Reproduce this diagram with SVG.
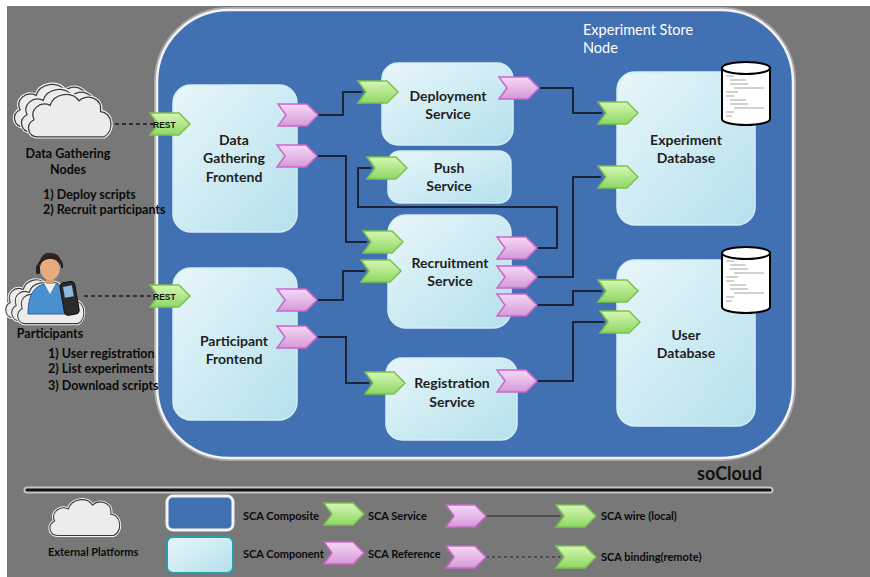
<svg xmlns="http://www.w3.org/2000/svg" xmlns:xlink="http://www.w3.org/1999/xlink" width="870" height="577" viewBox="0 0 870 577">
  <defs>
    <linearGradient id="compFill" x1="0" y1="0" x2="1" y2="1">
      <stop offset="0" stop-color="#e8f6fa"/>
      <stop offset="1" stop-color="#b4e0ec"/>
    </linearGradient>
    <linearGradient id="svcFill" x1="0" y1="0" x2="0" y2="1">
      <stop offset="0" stop-color="#d6f6b4"/>
      <stop offset="1" stop-color="#8ed764"/>
    </linearGradient>
    <linearGradient id="refFill" x1="0" y1="0" x2="0" y2="1">
      <stop offset="0" stop-color="#f6d8f6"/>
      <stop offset="1" stop-color="#d49ad8"/>
    </linearGradient>
    <path id="chev" d="M0,0 H29 L40,11 L29,22 H0 L8,11 Z"/>
    <path id="cloud" d="M14,52 C3,52 0,38 10,33 C5,22 16,12 28,17 C32,4 52,0 60,12 C68,4 86,8 84,24 C97,25 100,45 88,52 Z"/>
    <g id="svc"><use href="#chev" fill="url(#svcFill)" stroke="#7cc24e" stroke-width="1.5"/></g>
    <g id="ref"><use href="#chev" fill="url(#refFill)" stroke="#cc66cc" stroke-width="1.5"/></g>
    <g id="cloudShape"><use href="#cloud" fill="none" stroke="#f4f4f4" stroke-width="4"/><use href="#cloud" fill="#ececec" stroke="#3a3a3a" stroke-width="1.4"/></g>
  </defs>
  <style>
    .comp { fill: url(#compFill); stroke: #d2eef6; stroke-width: 1.5; }
    .lbl { font-family: Lato, "Liberation Sans", sans-serif; font-weight: bold; font-size: 14px; fill: #1e1e1e; text-anchor: middle; }
    .side { font-family: Lato, "Liberation Sans", sans-serif; font-weight: bold; font-size: 12.5px; fill: #0a0a0a; }
    .leg { font-family: Lato, "Liberation Sans", sans-serif; font-weight: bold; font-size: 11px; fill: #0a0a0a; }
    .wire { fill: none; stroke: #1b2536; stroke-width: 2; }
    .dash { fill: none; stroke: #1a1a1a; stroke-width: 1.5; stroke-dasharray: 4 3; }
    .db { fill: #ffffff; stroke: #000; stroke-width: 2; }
    .dbtxt { stroke: #666; stroke-width: 0.6; }
  </style>

  <!-- page -->
  <rect x="0" y="0" width="870" height="577" fill="#ffffff"/>
  <rect x="7" y="6" width="863" height="571" fill="#787878"/>

  <!-- experiment store composite -->
  <g id="experiment-store">
    <rect x="157" y="10" width="636" height="448" rx="72" fill="none" stroke="#a8a8a8" stroke-width="6"/>
    <rect x="157" y="10" width="636" height="448" rx="72" fill="#4271b3" stroke="#f4f4f4" stroke-width="2.5"/>
    <text x="583" y="35" font-family="Lato, 'Liberation Sans', sans-serif" font-size="14.5" fill="#ffffff">Experiment Store</text>
    <text x="583" y="53" font-family="Lato, 'Liberation Sans', sans-serif" font-size="14.5" fill="#ffffff">Node</text>
  </g>

  <!-- wires -->
  <g id="connectors">
    <path class="wire" d="M318,115 H343 V92 H362"/>
    <path class="wire" d="M316,156 H346 V242 H367"/>
    <path class="wire" d="M538,88 H573 V113 H602"/>
    <path class="wire" d="M535,248 H557 V207 H358 V168 H371"/>
    <path class="wire" d="M535,277 H573 V177 H601"/>
    <path class="wire" d="M535,305 H573 V291 H602"/>
    <path class="wire" d="M315,300 H343 V271 H365"/>
    <path class="wire" d="M315,337 H346 V383 H369"/>
    <path class="wire" d="M535,381 H573 V322 H604"/>
    <path class="dash" d="M115,124 H155"/>
    <path class="dash" d="M84,296 H154"/>
  </g>

  <!-- external: data gathering nodes -->
  <g id="data-gathering-nodes">
    <use href="#cloudShape" transform="translate(11,80) scale(0.9)"/>
    <use href="#cloudShape" transform="translate(18,85) scale(0.9)"/>
    <use href="#cloudShape" transform="translate(25,90) scale(0.9)"/>
    <text class="side" x="68" y="158" text-anchor="middle">Data Gathering</text>
    <text class="side" x="68" y="174" text-anchor="middle">Nodes</text>
    <text class="side" x="43" y="199">1) Deploy scripts</text>
    <text class="side" x="43" y="214">2) Recruit participants</text>
  </g>

  <!-- external: participants -->
  <g id="participants">
    <use href="#cloudShape" transform="translate(3,276) scale(0.72,0.8)"/>
    <use href="#cloudShape" transform="translate(9,279) scale(0.72,0.8)"/>
    <use href="#cloudShape" transform="translate(15,282) scale(0.72,0.8)"/>
    <!-- person with headset -->
    <path d="M28,314 C28,292 36,284 50,283 C64,284 72,292 72,314 Z" fill="#4a8fd0" stroke="#2c5f96" stroke-width="1"/>
    <path d="M44,283 L50,294 L56,283 Z" fill="#f0f0f0"/>
    <rect x="46" y="276" width="8" height="8" fill="#d99a70"/>
    <ellipse cx="50" cy="268" rx="10" ry="12" fill="#e8aa80"/>
    <path d="M40,266 C39,255 46,252 51,253 C58,253 62,258 60,266 C58,260 54,259 50,259 C45,259 42,261 40,266 Z" fill="#3a2418"/>
    <path d="M38,270 C36,254 64,252 62,268" fill="none" stroke="#222" stroke-width="2"/>
    <rect x="36" y="265" width="4" height="9" rx="1.5" fill="#222"/>
    <rect x="62" y="282" width="15" height="33" rx="4" fill="#2a2a2a" stroke="#111" stroke-width="1" transform="rotate(-10 69 298)"/>
    <rect x="65" y="286" width="9" height="11" fill="#8fb8e0" transform="rotate(-10 69 298)"/>
    <text class="side" x="50" y="338" text-anchor="middle">Participants</text>
    <text class="side" x="48" y="358">1) User registration</text>
    <text class="side" x="48" y="373">2) List experiments</text>
    <text class="side" x="48" y="390">3) Download scripts</text>
  </g>

  <!-- components -->
  <g id="data-gathering-frontend">
    <rect class="comp" x="173" y="85" width="124" height="147" rx="18"/>
    <text class="lbl" x="234" y="145">Data</text>
    <text class="lbl" x="234" y="163">Gathering</text>
    <text class="lbl" x="234" y="182">Frontend</text>
    <use href="#svc" x="150" y="113"/>
    <text x="153" y="127.5" font-family="'Liberation Sans', sans-serif" font-weight="bold" font-size="8.5" fill="#111">REST</text>
    <use href="#ref" x="278" y="104"/>
    <use href="#ref" x="277" y="145"/>
  </g>

  <g id="participant-frontend">
    <rect class="comp" x="173" y="268" width="124" height="152" rx="18"/>
    <text class="lbl" x="234" y="346">Participant</text>
    <text class="lbl" x="234" y="364">Frontend</text>
    <use href="#svc" x="150" y="285"/>
    <text x="153" y="299.5" font-family="'Liberation Sans', sans-serif" font-weight="bold" font-size="8.5" fill="#111">REST</text>
    <use href="#ref" x="277" y="289"/>
    <use href="#ref" x="277" y="326"/>
  </g>

  <g id="deployment-service">
    <rect class="comp" x="382" y="63" width="131" height="82" rx="16"/>
    <text class="lbl" x="448" y="101">Deployment</text>
    <text class="lbl" x="448" y="119">Service</text>
    <use href="#svc" x="358" y="81"/>
    <use href="#ref" x="499" y="77"/>
  </g>

  <g id="push-service">
    <rect class="comp" x="388" y="151" width="123" height="52" rx="12"/>
    <text class="lbl" x="449" y="173">Push</text>
    <text class="lbl" x="449" y="191">Service</text>
    <use href="#svc" x="367" y="157"/>
  </g>

  <g id="recruitment-service">
    <rect class="comp" x="388" y="215" width="123" height="113" rx="18"/>
    <text class="lbl" x="450" y="268">Recruitment</text>
    <text class="lbl" x="450" y="286">Service</text>
    <use href="#svc" x="363" y="231"/>
    <use href="#svc" x="361" y="260"/>
    <use href="#ref" x="497" y="237"/>
    <use href="#ref" x="497" y="266"/>
    <use href="#ref" x="497" y="294"/>
  </g>

  <g id="registration-service">
    <rect class="comp" x="386" y="358" width="131" height="82" rx="16"/>
    <text class="lbl" x="452" y="388">Registration</text>
    <text class="lbl" x="452" y="407">Service</text>
    <use href="#svc" x="365" y="372"/>
    <use href="#ref" x="497" y="370"/>
  </g>

  <g id="experiment-database">
    <rect class="comp" x="617" y="72" width="138" height="153" rx="18"/>
    <text class="lbl" x="686" y="145">Experiment</text>
    <text class="lbl" x="686" y="163">Database</text>
    <use href="#svc" x="598" y="102"/>
    <use href="#svc" x="598" y="166"/>
    <path class="db" d="M722,68 V119 A24,6 0 0 0 770,119 V68 Z"/>
    <ellipse class="db" cx="746" cy="68" rx="24" ry="6"/>
    <g class="dbtxt">
      <path d="M726,76 H734 M730,80 H746 M730,84 H748 M734,88 H764 M726,92 H738 M726,96 H734 M730,100 H746 M730,104 H748 M734,108 H764 M726,112 H734 M726,116 H732"/>
    </g>
  </g>

  <g id="user-database">
    <rect class="comp" x="617" y="260" width="138" height="166" rx="18"/>
    <text class="lbl" x="686" y="340">User</text>
    <text class="lbl" x="686" y="358">Database</text>
    <use href="#svc" x="598" y="280"/>
    <use href="#svc" x="600" y="311"/>
    <path class="db" d="M722,253 V307 A24,6 0 0 0 770,307 V253 Z"/>
    <ellipse class="db" cx="746" cy="253" rx="24" ry="6"/>
    <g class="dbtxt">
      <path d="M726,261 H734 M730,265 H746 M730,269 H748 M734,273 H764 M726,277 H738 M726,281 H734 M730,285 H746 M730,289 H748 M734,293 H764 M726,297 H734 M726,301 H732"/>
    </g>
  </g>

  <!-- platform name and separator -->
  <text x="697" y="480" font-family="Lato, 'Liberation Sans', sans-serif" font-weight="bold" font-size="18" fill="#111">soCloud</text>
  <line x1="27" y1="490" x2="770" y2="490" stroke="#c4c4c4" stroke-width="7" stroke-linecap="round"/>
  <line x1="27" y1="490" x2="770" y2="490" stroke="#111" stroke-width="3" stroke-linecap="round"/>

  <!-- legend -->
  <g id="legend">
    <use href="#cloudShape" transform="translate(47,496) scale(0.76,0.76)"/>
    <text class="leg" x="48" y="556">External Platforms</text>
    <rect x="167" y="496" width="66" height="34" rx="6" fill="#4271b3" stroke="#f4f4f4" stroke-width="3"/>
    <rect x="167" y="537" width="66" height="36" rx="6" fill="url(#compFill)" stroke="#2a9bb0" stroke-width="2"/>
    <text class="leg" x="243" y="520">SCA Composite</text>
    <text class="leg" x="243" y="558">SCA Component</text>
    <use href="#svc" x="324" y="503"/>
    <use href="#ref" x="324" y="542"/>
    <text class="leg" x="368" y="520">SCA Service</text>
    <text class="leg" x="368" y="558">SCA Reference</text>
    <line x1="486" y1="516" x2="560" y2="516" stroke="#222" stroke-width="1.2"/>
    <line x1="486" y1="557" x2="560" y2="557" stroke="#222" stroke-width="1.2" stroke-dasharray="3 3"/>
    <use href="#ref" x="446" y="505"/>
    <use href="#svc" x="556" y="505"/>
    <use href="#ref" x="446" y="546"/>
    <use href="#svc" x="556" y="546"/>
    <text class="leg" x="601" y="520">SCA wire (local)</text>
    <text class="leg" x="601" y="561">SCA binding(remote)</text>
  </g>
</svg>
